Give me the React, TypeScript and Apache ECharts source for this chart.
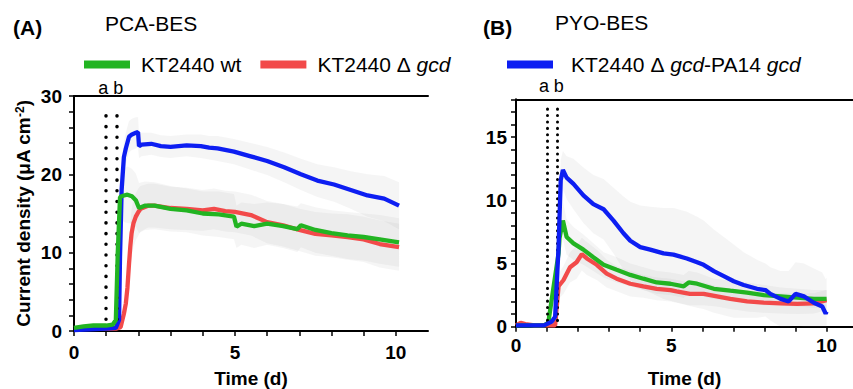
import React, { useEffect, useRef } from "react";
import * as echarts from "echarts";

// ---------- Data ----------
// Panel A: PCA-BES
const tA_wt = [0, 0.3, 0.6, 1.0, 1.2, 1.3, 1.36, 1.43, 1.55, 1.66, 1.8, 1.92, 2.02, 2.2, 2.5, 3.0, 3.5, 4.0, 4.5, 4.97, 5.05, 5.2, 5.6, 6.0, 6.5, 6.94, 7.05, 7.5, 8.0, 8.5, 9.0, 9.5, 10.1];
const vA_wt = [0.4, 0.6, 0.7, 0.7, 0.8, 1.4, 10.0, 17.1, 17.3, 17.4, 17.2, 16.7, 15.7, 16.0, 16.0, 15.6, 15.4, 15.0, 14.9, 14.6, 13.3, 13.7, 13.4, 13.7, 13.4, 13.0, 13.5, 12.9, 12.5, 12.2, 12.0, 11.7, 11.3];
const sdA_wt = [0.2, 0.2, 0.2, 0.2, 0.2, 0.5, 2.0, 3.0, 3.4, 3.6, 3.5, 3.4, 3.2, 3.1, 3.0, 2.9, 2.8, 2.8, 2.9, 2.9, 2.7, 2.7, 2.8, 2.7, 2.8, 2.9, 2.8, 2.9, 2.9, 3.0, 3.0, 3.1, 3.1];

const tA_gcd = [0, 0.5, 1.0, 1.3, 1.45, 1.55, 1.61, 1.66, 1.71, 1.75, 1.79, 1.85, 1.92, 2.0, 2.07, 2.3, 2.5, 3.0, 3.5, 4.0, 4.35, 4.7, 5.0, 5.5, 6.0, 6.5, 7.0, 7.5, 8.0, 8.5, 9.0, 9.5, 10.1];
const vA_gcd = [0.3, 0.3, 0.3, 0.3, 0.5, 2.2, 3.5, 5.5, 8.6, 10.8, 12.5, 13.8, 14.6, 15.2, 15.6, 16.0, 16.0, 15.7, 15.6, 15.4, 15.6, 15.3, 15.2, 14.8, 13.9, 13.5, 12.9, 12.4, 12.2, 12.0, 11.7, 11.1, 10.7];
const sdA_gcd = [0.2, 0.2, 0.2, 0.2, 0.3, 1.0, 1.5, 2.0, 2.5, 2.8, 3.0, 3.0, 3.0, 3.0, 2.9, 2.8, 2.8, 2.7, 2.7, 2.6, 2.6, 2.6, 2.6, 2.6, 2.7, 2.7, 2.7, 2.8, 2.8, 2.9, 2.9, 3.0, 3.0];

const tA_pa14 = [0, 0.5, 1.0, 1.3, 1.4, 1.43, 1.48, 1.55, 1.61, 1.71, 1.8, 1.92, 1.99, 2.02, 2.1, 2.4, 2.7, 3.0, 3.5, 3.94, 4.2, 4.46, 4.97, 5.49, 6.0, 6.53, 7.05, 7.56, 8.08, 8.6, 9.12, 9.64, 10.1];
const vA_pa14 = [0.1, 0.2, 0.3, 0.4, 1.4, 9.5, 18.0, 22.2, 23.3, 24.8, 25.1, 25.3, 25.4, 23.6, 23.8, 23.9, 23.6, 23.5, 23.7, 23.6, 23.4, 23.3, 22.9, 22.3, 21.7, 20.9, 20.0, 19.2, 18.7, 18.0, 17.3, 16.9, 16.0];
const sdA_pa14 = [0.1, 0.1, 0.1, 0.2, 0.5, 1.5, 2.0, 2.0, 2.0, 2.0, 2.0, 2.0, 1.9, 1.5, 1.5, 1.4, 1.4, 1.4, 1.4, 1.5, 1.5, 1.6, 1.6, 1.7, 1.8, 1.9, 2.0, 2.1, 2.2, 2.4, 2.7, 2.9, 3.0];

// Panel B: PYO-BES
const tB_wt = [0, 0.3, 0.6, 0.9, 1.04, 1.2, 1.37, 1.4, 1.51, 1.63, 1.85, 2.17, 2.49, 2.82, 3.24, 3.68, 4.1, 4.53, 4.97, 5.4, 5.56, 5.83, 6.37, 6.9, 7.44, 7.98, 8.52, 9.05, 9.59, 10.0];
const vB_wt = [0.1, 0.1, 0.1, 0.1, 0.3, 3.0, 5.8, 7.0, 8.4, 7.1, 6.6, 6.1, 5.5, 4.9, 4.5, 4.1, 3.8, 3.5, 3.4, 3.2, 3.5, 3.4, 3.0, 2.85, 2.7, 2.5, 2.4, 2.3, 2.2, 2.2];
const sdB_wt = [0.05, 0.05, 0.05, 0.05, 0.1, 0.8, 1.2, 1.3, 1.5, 1.4, 1.3, 1.2, 1.1, 1.0, 1.0, 0.9, 0.9, 0.9, 0.9, 0.9, 0.9, 0.9, 0.8, 0.8, 0.8, 0.8, 0.7, 0.7, 0.7, 0.7];

const tB_gcd = [0, 0.15, 0.3, 0.6, 0.9, 1.26, 1.37, 1.53, 1.74, 1.95, 2.12, 2.28, 2.6, 2.92, 3.24, 3.68, 4.1, 4.53, 4.97, 5.17, 5.6, 6.04, 6.47, 6.9, 7.44, 7.98, 8.52, 9.05, 9.59, 10.0];
const vB_gcd = [0.1, 0.3, 0.2, 0.1, 0.1, 0.1, 3.2, 3.7, 4.7, 5.1, 5.75, 5.4, 4.9, 4.2, 3.8, 3.4, 3.2, 3.0, 2.9, 2.8, 2.6, 2.6, 2.4, 2.2, 2.0, 1.9, 1.85, 1.8, 1.85, 2.1];
const sdB_gcd = [0.05, 0.1, 0.1, 0.05, 0.05, 0.05, 1.0, 1.1, 1.2, 1.3, 1.3, 1.3, 1.2, 1.1, 1.0, 1.0, 0.9, 0.9, 0.9, 0.9, 0.9, 0.9, 0.8, 0.8, 0.8, 0.8, 0.8, 0.8, 0.8, 0.8];

const tB_pa14 = [0, 0.3, 0.6, 0.9, 1.15, 1.26, 1.37, 1.44, 1.51, 1.63, 1.85, 2.17, 2.49, 2.82, 3.14, 3.46, 3.68, 4.0, 4.32, 4.75, 5.07, 5.5, 5.83, 6.04, 6.37, 6.69, 7.01, 7.33, 7.76, 8.03, 8.19, 8.52, 8.78, 9.0, 9.27, 9.59, 9.86, 9.97, 10.0];
const vB_pa14 = [0.1, 0.1, 0.1, 0.1, 0.4, 0.8, 6.3, 11.6, 12.4, 11.8, 11.3, 10.4, 9.7, 9.3, 8.4, 7.4, 6.8, 6.3, 6.1, 5.8, 5.7, 5.4, 5.1, 4.9, 4.4, 4.0, 3.6, 3.3, 3.0, 2.9, 2.6, 2.2, 2.0, 2.6, 2.4, 1.9, 1.6, 1.05, 1.2];
const sdB_pa14 = [0.05, 0.05, 0.05, 0.05, 0.2, 0.5, 1.5, 1.6, 1.5, 1.7, 2.0, 2.2, 2.3, 2.4, 2.6, 2.9, 3.1, 3.3, 3.4, 3.6, 3.7, 3.7, 3.6, 3.5, 3.3, 3.1, 2.9, 2.6, 2.3, 2.1, 2.1, 2.2, 2.4, 2.5, 2.6, 2.7, 2.7, 2.7, 2.7];

// Event markers (time, label)
const markerT = [1.0, 1.33];
const markerLabels = ["a", "b"];

// Axis ticks
const xTicksLabelled = [0, 5, 10];
const yTicksA = [0, 10, 20, 30];
const yTicksB = [0, 5, 10, 15];

const NAME_WT = "KT2440 wt";
const NAME_GCD = "KT2440 Δgcd";
const NAME_PA14 = "KT2440 Δgcd-PA14 gcd";

const GREEN = "#22b422";
const RED = "#f24a4a";
const BLUE = "#0d1ef2";
const BAND = "rgba(165,165,165,0.11)";
const FONT = "'Liberation Sans', Arial, sans-serif";

function pairs(t: number[], v: number[]) {
  return t.map((x, i) => [x, v[i]]);
}

// Mean ± SD band drawn as one polygon through the axes' own scales
function band(t: number[], v: number[], sd: number[], xi: number, yi: number) {
  const data = t.map((x, i) => [x, Math.max(0, v[i] - sd[i]), v[i] + sd[i]]);
  return {
    type: "custom",
    xAxisIndex: xi,
    yAxisIndex: yi,
    silent: true,
    z: 1,
    clip: true,
    data,
    encode: { x: 0, y: [1, 2] },
    renderItem: (params: any, api: any) => {
      if (params.dataIndex !== 0) return null;
      const upper = data.map((d) => api.coord([d[0], d[2]]));
      const lower = data.map((d) => api.coord([d[0], d[1]])).reverse();
      return {
        type: "polygon",
        shape: { points: upper.concat(lower) },
        style: { fill: BAND, stroke: "none" },
      };
    },
  };
}

function line(name: string, color: string, t: number[], v: number[], xi: number, yi: number, z: number, extra: any = {}) {
  return {
    name,
    type: "line",
    xAxisIndex: xi,
    yAxisIndex: yi,
    data: pairs(t, v),
    symbol: "none",
    color,
    z,
    lineStyle: { width: 4.3, color },
    emphasis: { disabled: true },
    ...extra,
  };
}

function markers(yLo: number, yHi: number, dash: number, width: number, dist: number) {
  return {
    symbol: "none",
    silent: true,
    lineStyle: { color: "#000", width, type: [0.1, dash], cap: "round" },
    label: { show: true, position: "end", color: "#000", fontSize: 18, fontFamily: FONT, distance: dist },
    data: markerT.map((t, i) => [
      {
        coord: [t, yLo],
        label: { formatter: markerLabels[i], padding: i === 0 ? [0, 6, 0, 0] : [0, 0, 0, 3] },
      },
      { coord: [t, yHi] },
    ]),
  };
}

const axisLineStyle = { color: "#000", width: 2 };
const tickStyle = { show: true, length: 5, lineStyle: { color: "#000", width: 1.5 } };
const labelStyle = { fontSize: 19, fontWeight: "bold", color: "#000", fontFamily: FONT };

function xBottom(grid: number, max: number, gap: number, margin: number) {
  return {
    gridIndex: grid,
    type: "value",
    min: 0,
    max,
    interval: 1,
    axisLine: { show: true, onZero: false, lineStyle: axisLineStyle },
    axisTick: tickStyle,
    splitLine: { show: false },
    axisLabel: {
      ...labelStyle,
      margin,
      showMaxLabel: false,
      formatter: (v: number) => (xTicksLabelled.includes(Math.round(v * 1000) / 1000) ? String(v) : ""),
    },
    name: "Time (d)",
    nameLocation: "middle",
    nameGap: gap,
    nameTextStyle: { ...labelStyle },
  };
}

function xTop(grid: number, max: number) {
  return {
    gridIndex: grid,
    type: "value",
    position: "top",
    min: 0,
    max,
    axisLine: { show: true, onZero: false, lineStyle: axisLineStyle },
    axisTick: { show: false },
    axisLabel: { show: false },
    splitLine: { show: false },
  };
}

function yAxis(grid: number, max: number, interval: number, labels: number[], margin: number, extra: any = {}) {
  return {
    gridIndex: grid,
    type: "value",
    min: 0,
    max,
    interval,
    axisLine: { show: true, onZero: false, lineStyle: axisLineStyle },
    axisTick: tickStyle,
    splitLine: { show: false },
    axisLabel: {
      ...labelStyle,
      margin,
      formatter: (v: number) => (labels.includes(Math.round(v * 1000) / 1000) ? String(v) : ""),
    },
    ...extra,
  };
}

const legendFormatter = (name: string) => {
  if (name === NAME_GCD) return "KT2440 Δ {i|gcd}";
  if (name === NAME_PA14) return "KT2440 Δ {i|gcd}-PA14 {i|gcd}";
  return name;
};

const legendText = {
  fontSize: 21,
  color: "#000",
  fontFamily: FONT,
  padding: [0, 0, 0, 6],
  rich: { i: { fontSize: 21, fontStyle: "italic", color: "#000", fontFamily: FONT } },
};

const option: any = {
  animation: false,
  backgroundColor: "#fff",
  textStyle: { fontFamily: FONT },
  grid: [
    { left: 74, top: 96, width: 354, height: 235, containLabel: false, outerBoundsMode: "none" },
    { left: 516, top: 99.3, width: 337, height: 227.4, containLabel: false, outerBoundsMode: "none" },
  ],
  legend: [
    {
      left: 79,
      top: 49,
      icon: "rect",
      itemWidth: 46,
      itemHeight: 8,
      itemGap: 19,
      selectedMode: false,
      data: [NAME_WT, NAME_GCD],
      formatter: legendFormatter,
      textStyle: legendText,
    },
    {
      left: 502,
      top: 49,
      icon: "rect",
      itemWidth: 46,
      itemHeight: 8,
      selectedMode: false,
      data: [NAME_PA14],
      formatter: legendFormatter,
      textStyle: { ...legendText, padding: [0, 0, 0, 13] },
    },
  ],
  xAxis: [xBottom(0, 11, 38, 12), xBottom(1, 10.85, 42, 9), xTop(0, 11), xTop(1, 10.85)],
  yAxis: [
    yAxis(0, 30, 2, yTicksA, 12, {
      name: "Current density (μA cm{sup|-2})",
      nameLocation: "middle",
      nameRotate: 90,
      nameGap: 41,
      nameTextStyle: {
        ...labelStyle,
        rich: { sup: { fontSize: 12, fontWeight: "bold", color: "#000", verticalAlign: "top", fontFamily: FONT } },
      },
    }),
    yAxis(1, 18, 1, yTicksB, 9),
  ],
  graphic: [
    { type: "text", x: 13, y: 27, style: { text: "(A)", fontSize: 21, fontWeight: "bold", fontFamily: FONT, fill: "#000", verticalAlign: "middle" } },
    { type: "text", x: 105, y: 23, style: { text: "PCA-BES", fontSize: 21, fontFamily: FONT, fill: "#000", verticalAlign: "middle" } },
    { type: "text", x: 483, y: 27, style: { text: "(B)", fontSize: 21, fontWeight: "bold", fontFamily: FONT, fill: "#000", verticalAlign: "middle" } },
    { type: "text", x: 555, y: 22.5, style: { text: "PYO-BES", fontSize: 21, fontFamily: FONT, fill: "#000", verticalAlign: "middle" } },
  ],
  series: [
    // error bands panel A
    band(tA_gcd, vA_gcd, sdA_gcd, 0, 0),
    band(tA_wt, vA_wt, sdA_wt, 0, 0),
    band(tA_pa14, vA_pa14, sdA_pa14, 0, 0),
    // error bands panel B
    band(tB_gcd, vB_gcd, sdB_gcd, 1, 1),
    band(tB_wt, vB_wt, sdB_wt, 1, 1),
    band(tB_pa14, vB_pa14, sdB_pa14, 1, 1),
    // panel A lines
    line(NAME_GCD, RED, tA_gcd, vA_gcd, 0, 0, 3, { markLine: markers(1.5, 28.8, 10.6, 3.5, 8) }),
    line(NAME_PA14, BLUE, tA_pa14, vA_pa14, 0, 0, 4),
    line(NAME_WT, GREEN, tA_wt, vA_wt, 0, 0, 5),
    // panel B lines
    line(NAME_GCD, RED, tB_gcd, vB_gcd, 1, 1, 3, { markLine: markers(0.5, 17.3, 6.3, 3, 13) }),
    line(NAME_WT, GREEN, tB_wt, vB_wt, 1, 1, 4),
    line(NAME_PA14, BLUE, tB_pa14, vB_pa14, 1, 1, 5),
  ],
};

export default function App() {
  const ref = useRef<HTMLDivElement>(null);
  useEffect(() => {
    if (!ref.current) return;
    const chart = echarts.init(ref.current, null, { renderer: "svg" });
    chart.setOption(option);
    return () => chart.dispose();
  }, []);
  return (
    <div
      ref={ref}
      style={{ position: "absolute", left: 0, top: 0, width: 853, height: 389, background: "#fff" }}
    />
  );
}
